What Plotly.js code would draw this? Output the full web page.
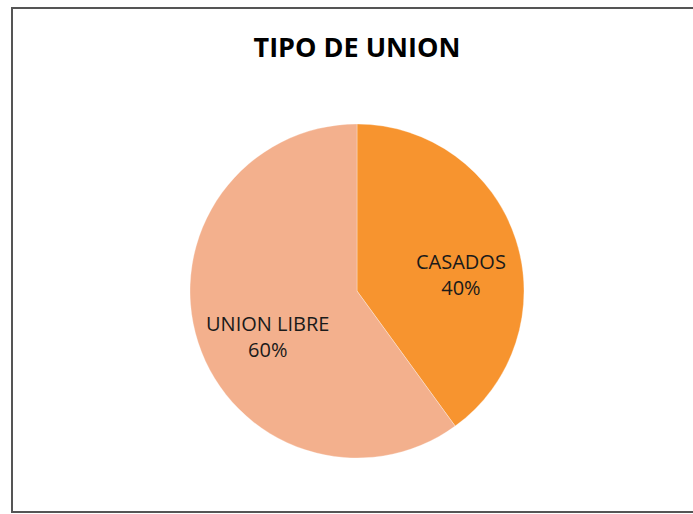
<!DOCTYPE html>
<html>
<head>
<meta charset="utf-8">
<script src="https://cdn.plot.ly/plotly-3.0.1.min.js"></script>
<style>html,body{margin:0;padding:0;background:#fff;}#chart{width:693px;height:514px;}</style>
</head>
<body>
<div id="chart"></div>
<script>
var categories = ["CASADOS", "UNION LIBRE"];
var values = [40, 60];
var percentLabels = ["40%", "60%"];
var colors = ["#F7942F", "#F3B08D"];

var W = 693, H = 514;
var cx = 357, cy = 291, r = 167;
var labelPos = [[461, 274], [267, 336]];

var trace = {
  type: "pie",
  labels: categories,
  values: values,
  sort: false,
  direction: "clockwise",
  rotation: 0,
  marker: {colors: colors, line: {color: "rgba(255,255,255,0.6)", width: 0.5}},
  textinfo: "none",
  hoverinfo: "label+percent",
  showlegend: false,
  domain: {x: [(cx - r) / W, (cx + r) / W], y: [1 - (cy + r) / H, 1 - (cy - r) / H]}
};

var annotations = categories.map(function (c, i) {
  return {
    xref: "paper", yref: "paper",
    x: labelPos[i][0] / W, y: 1 - labelPos[i][1] / H,
    xanchor: "center", yanchor: "middle",
    text: c + "<br>" + percentLabels[i],
    showarrow: false,
    font: {family: "Open Sans, Liberation Sans, sans-serif", size: 20, color: "#1a1a1a"}
  };
});

var layout = {
  width: W, height: H,
  margin: {l: 0, r: 0, t: 0, b: 0},
  paper_bgcolor: "#ffffff",
  title: {text: "<b>TIPO DE UNION</b>", x: cx / W, xanchor: "center", y: 1 - 48 / H, yanchor: "middle",
          font: {family: "Open Sans, Liberation Sans, sans-serif", size: 27, color: "#000000"}},
  annotations: annotations,
  shapes: [{type: "rect", xref: "paper", yref: "paper", x0: 12 / W, x1: 1.05, y0: 1 - 512 / H, y1: 1 - 8 / H,
            line: {color: "#555555", width: 2}, fillcolor: "rgba(0,0,0,0)"}]
};

Plotly.newPlot("chart", [trace], layout, {displayModeBar: false, staticPlot: true});
</script>
</body>
</html>
